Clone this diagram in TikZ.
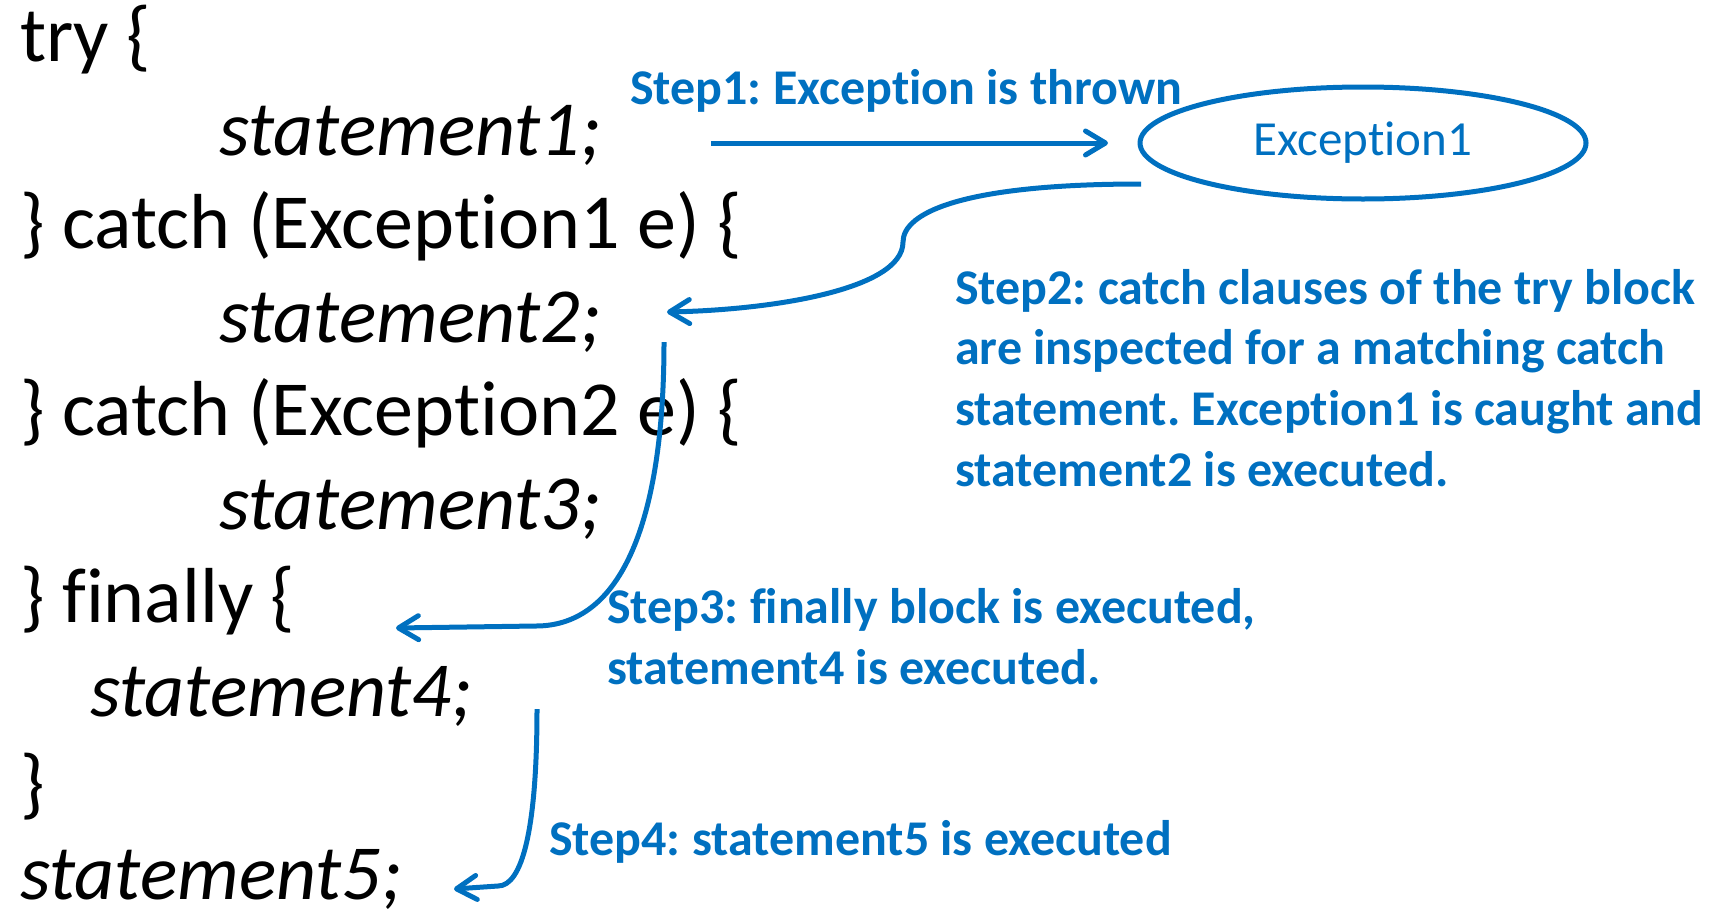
\documentclass[tikz,border=0pt]{standalone}
\usepackage{fontspec}
\setmainfont{Carlito}[Ligatures=NoCommon]
\usetikzlibrary{arrows.meta,shapes.geometric}
\definecolor{flow}{RGB}{0,112,192}
\frenchspacing
\begin{document}
\begin{tikzpicture}[x=1pt,y=-1pt,
  code/.style={anchor=base west,inner sep=0pt,font=\fontsize{78}{93}\selectfont},
  stmt/.style={code,font=\fontsize{78}{93}\selectfont\itshape},
  note/.style={anchor=base west,inner sep=0pt,text=flow,font=\fontsize{50}{60}\selectfont\bfseries},
  flowline/.style={draw=flow,line width=5pt,
    -{Straight Barb[length=20pt,width=24pt,line width=5pt,round]}},
  exc/.style={ellipse,draw=flow,line width=5pt,minimum width=446pt,minimum height=112pt,inner sep=0pt,
    text=flow,font=\fontsize{49}{58}\selectfont}]
\useasboundingbox (0,0) rectangle (1715,916);

% code listing
\node[code] (l1)  at (20,61.5)  {try \{};
\node[stmt] (l2)  at (219,155)  {statement1;};
\node[code] (l3)  at (20,248.5) {\} catch (Exception1 e) \{};
\node[stmt] (l4)  at (219,342)  {statement2;};
\node[code] (l5)  at (20,435.5) {\} catch (Exception2 e) \{};
\node[stmt] (l6)  at (219,529)  {statement3;};
\node[code] (l7)  at (20,622.5) {\} finally \{};
\node[stmt] (l8)  at (90,716)   {statement4;};
\node[code] (l9)  at (20,809.5) {\}};
\node[stmt] (l10) at (20,899)   {statement5;};

% thrown exception
\node[exc] (ex) at (1363,143) {Exception1};

% step notes
\node[note] (n1)  at (630,104) {Step1: Exception is thrown};
\node[note] (n2a) at (955,304) {Step2: catch clauses of the try block};
\node[note] (n2b) at (955,364) {are inspected for a matching catch};
\node[note] (n2c) at (955,425) {statement. Exception1 is caught and};
\node[note] (n2d) at (955,486) {statement2 is executed.};
\node[note] (n3a) at (607,623) {Step3: finally block is executed,};
\node[note] (n3b) at (607,684) {statement4 is executed.};
\node[note] (n4)  at (549,855) {Step4: statement5 is executed};

% arrow end points
\coordinate (a1s) at (711,143);
\coordinate (a1e) at (1108,143);
\coordinate (a2s) at (1141,184);
\coordinate (a2m) at (903,242);
\coordinate (a2e) at (667,312);
\coordinate (a3s) at (664,342);
\coordinate (a3k) at (536,626);
\coordinate (a3e) at (396,628);
\coordinate (a4s) at (537,709);
\coordinate (a4k) at (498,886);
\coordinate (a4e) at (454,889);

% control flow
\draw[flowline] (a1s) -- (a1e);
\draw[flowline] (a2s) .. controls (965,184) and (903,212) .. (a2m)
                      .. controls (903,290) and (770,310) .. (a2e);
\draw[flowline] (a3s) .. controls (664,520) and (622,626) .. (a3k) -- (a3e);
\draw[flowline] (a4s) .. controls (537,830) and (522,886) .. (a4k) -- (a4e);
\end{tikzpicture}
\end{document}
